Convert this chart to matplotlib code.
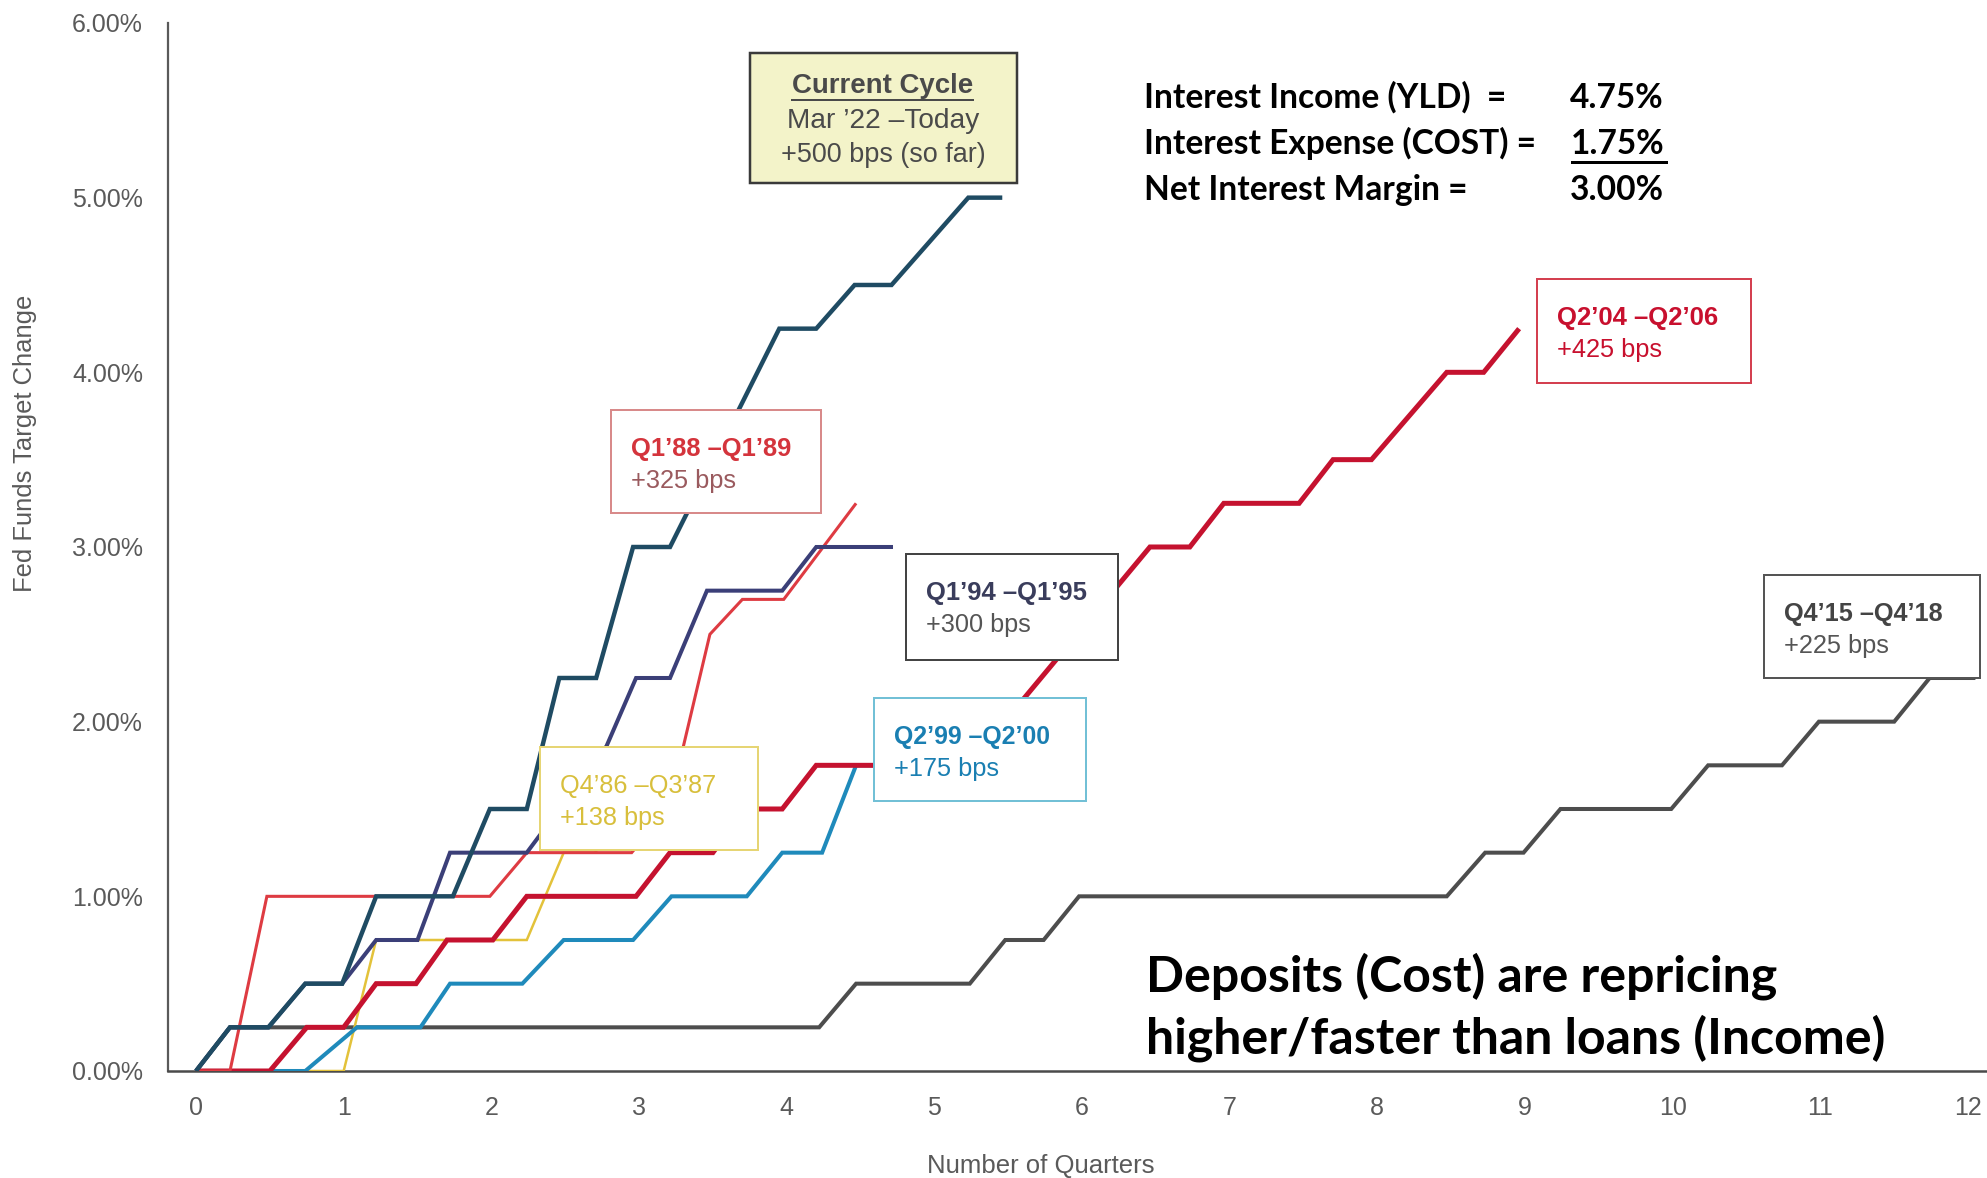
import matplotlib
matplotlib.use("Agg")
import matplotlib.pyplot as plt
from matplotlib.patches import Rectangle
from matplotlib.lines import Line2D
from matplotlib import font_manager

# ---------------- data ----------------
cur_x = [0, 0.23, 0.49, 0.74, 0.99, 1.22, 1.74, 1.99, 2.24, 2.46, 2.71, 2.96, 3.21, 3.95, 4.20, 4.46, 4.71, 5.23, 5.46]
cur_y = [0, 0.25, 0.25, 0.50, 0.50, 1.00, 1.00, 1.50, 1.50, 2.25, 2.25, 3.00, 3.00, 4.25, 4.25, 4.50, 4.50, 5.00, 5.00]

q94_x = [0, 0.23, 0.49, 0.74, 0.99, 1.22, 1.50, 1.72, 2.24, 2.78, 2.98, 3.21, 3.46, 3.97, 4.20, 4.72]
q94_y = [0, 0.25, 0.25, 0.50, 0.50, 0.75, 0.75, 1.25, 1.25, 1.86, 2.25, 2.25, 2.75, 2.75, 3.00, 3.00]

q88_x = [0, 0.23, 0.48, 1.99, 2.24, 2.95, 3.20, 3.48, 3.70, 3.98, 4.47]
q88_y = [0, 0, 1.00, 1.00, 1.25, 1.25, 1.50, 2.50, 2.70, 2.70, 3.25]

q04_x = [0, 0.50, 0.75, 1.00, 1.22, 1.49, 1.70, 2.01, 2.24, 2.98, 3.21, 3.50, 3.72, 3.97, 4.20, 5.23, 6.46, 6.73, 6.96, 7.47, 7.70, 7.96, 8.47, 8.72, 8.96]
q04_y = [0, 0, 0.25, 0.25, 0.50, 0.50, 0.75, 0.75, 1.00, 1.00, 1.25, 1.25, 1.50, 1.50, 1.75, 1.75, 3.00, 3.00, 3.25, 3.25, 3.50, 3.50, 4.00, 4.00, 4.25]

q99_x = [0, 0.74, 1.09, 1.52, 1.72, 2.21, 2.49, 2.96, 3.22, 3.73, 3.97, 4.24, 4.47, 4.62]
q99_y = [0, 0, 0.25, 0.25, 0.50, 0.50, 0.75, 0.75, 1.00, 1.00, 1.25, 1.25, 1.75, 1.75]

q86_x = [0, 1.00, 1.22, 2.24, 2.49, 2.70, 2.85]
q86_y = [0, 0, 0.75, 0.75, 1.25, 1.25, 1.38]

q15_x = [0, 0.23, 4.22, 4.47, 5.24, 5.48, 5.74, 5.98, 8.47, 8.73, 8.99, 9.24, 9.99, 10.24, 10.74, 10.99, 11.50, 11.74, 12.05]
q15_y = [0, 0.25, 0.25, 0.50, 0.50, 0.75, 0.75, 1.00, 1.00, 1.25, 1.25, 1.50, 1.50, 1.75, 1.75, 2.00, 2.00, 2.25, 2.25]

x_ticks = list(range(0, 13))
y_ticks = [0, 1, 2, 3, 4, 5, 6]
y_tick_labels = ["0.00%", "1.00%", "2.00%", "3.00%", "4.00%", "5.00%", "6.00%"]

cycle_titles = ["Q1\u201988 \u2013Q1\u201989", "Q1\u201994 \u2013Q1\u201995", "Q2\u201999 \u2013Q2\u201900",
                "Q4\u201986 \u2013Q3\u201987", "Q2\u201904 \u2013Q2\u201906", "Q4\u201915 \u2013Q4\u201918"]
cycle_bps = ["+325 bps", "+300 bps", "+175 bps", "+138 bps", "+425 bps", "+225 bps"]

nim_labels = ["Interest Income (YLD)  =", "Interest Expense (COST) =", "Net Interest Margin ="]
nim_values = ["4.75%", "1.75%", "3.00%"]

# ---------------- figure ----------------
W, H = 1987, 1178
fig = plt.figure(figsize=(W / 100, H / 100), dpi=100)
fig.patch.set_facecolor("white")

avail = {f.name for f in font_manager.fontManager.ttflist}
ARIAL = "Liberation Sans"
NARROW = "Liberation Sans Narrow" if "Liberation Sans Narrow" in avail else "Liberation Sans"
CAL = "Lato" if "Lato" in avail else "Open Sans"

# axes placement in pixels
px_per_q = 147.67
px_per_pct = 174.67
x0_px, y0_px = 196.0, 1071.0
xlim = (-0.19, 12.13)
ylim = (0, 6)
left_px = x0_px + xlim[0] * px_per_q
right_px = x0_px + xlim[1] * px_per_q
top_px = y0_px - ylim[1] * px_per_pct
ax = fig.add_axes([left_px / W, 1 - y0_px / H, (right_px - left_px) / W, (y0_px - top_px) / H])
ax.set_xlim(*xlim)
ax.set_ylim(*ylim)
ax.set_facecolor("none")
for s in ["top", "right"]:
    ax.spines[s].set_visible(False)
ax.spines["left"].set_color("#5a5a5a")
ax.spines["left"].set_linewidth(1.6)
ax.spines["bottom"].set_color("#4a4a4a")
ax.spines["bottom"].set_linewidth(1.8)
ax.spines["left"].set_zorder(1)
ax.spines["bottom"].set_zorder(1)

ax.set_xticks(x_ticks)
ax.set_xticklabels([str(v) for v in x_ticks])
ax.set_yticks(y_ticks)
ax.set_yticklabels(y_tick_labels)
ax.tick_params(axis="both", length=0, labelsize=18, labelcolor="#5a5a5a")
ax.tick_params(axis="y", pad=18)
ax.tick_params(axis="x", pad=18)
for lab in ax.get_xticklabels() + ax.get_yticklabels():
    lab.set_fontfamily(ARIAL)

series = [
    (q15_x, q15_y, "#4d4d4d", 2.9, 2),
    (q86_x, q86_y, "#e3c23a", 1.8, 3),
    (q99_x, q99_y, "#1f8abb", 2.9, 4),
    (q04_x, q04_y, "#c5122f", 3.6, 5),
    (q88_x, q88_y, "#de3b42", 2.2, 6),
    (q94_x, q94_y, "#3b3f78", 2.9, 7),
    (cur_x, cur_y, "#1f4b63", 3.2, 8),
]
for xs, ys, c, lw, z in series:
    ax.plot(xs, ys, color=c, lw=lw, zorder=z, solid_joinstyle="miter", solid_capstyle="butt")

# ---------------- helpers for annotations ----------------
renderer = fig.canvas.get_renderer()


def fpos(x, y):
    return x / W, 1 - y / H


def fit(t, target, dim="w"):
    bb = t.get_window_extent(renderer=renderer)
    cur = bb.width if dim == "w" else bb.height
    t.set_fontsize(t.get_fontsize() * target / cur)
    return t


def text(x, y, s, color, width=None, size=18, weight="normal", ha="left", va="center",
         family=ARIAL, rotation=0, dim="w", z=7):
    t = fig.text(*fpos(x, y), s, color=color, fontsize=size, fontweight=weight, ha=ha, va=va,
                 family=family, rotation=rotation, zorder=z)
    if width:
        fit(t, width, dim)
    return t


def box(x0, y0, x1, y1, ec, fc="white", lw=2.0):
    r = Rectangle(fpos(x0, y1), (x1 - x0) / W, (y1 - y0) / H, transform=fig.transFigure,
                  facecolor=fc, edgecolor=ec, linewidth=lw * 0.72, zorder=5)
    fig.add_artist(r)


def hline(x0, x1, y, color, lw):
    fig.add_artist(Line2D([x0 / W, x1 / W], [1 - y / H, 1 - y / H], transform=fig.transFigure,
                          color=color, lw=lw * 0.72, zorder=7))


# axis labels
text(25, 443, "Fed Funds Target Change", "#5a5a5a", width=298, size=15, family=NARROW,
     rotation=90, ha="center", dim="h")
text(1041, 1166, "Number of Quarters", "#5a5a5a", width=228, size=15, family=NARROW, ha="center")

# current cycle box
box(750, 53, 1017, 183, "#3a3a3a", fc="#f3f3c9", lw=2.5)
text(883, 86, "Current Cycle", "#4a4a4a", width=181, weight="bold", ha="center")
hline(792, 973, 100, "#4a4a4a", 2)
text(883, 121, "Mar \u201922 \u2013Today", "#4a4a4a", width=192, ha="center")
text(883, 155, "+500 bps (so far)", "#4a4a4a", width=205, ha="center")

# cycle boxes
box_specs = [
    # x0, y0, x1, y1, edge, title_color, sub_color, title_weight, title_w
    (611, 410, 821, 513, "#d88a8a", "#d4343c", "#9a5a5e", "bold", 160),
    (906, 554, 1118, 660, "#444444", "#3a3d5c", "#555555", "bold", 161),
    (874, 698, 1086, 801, "#72c0d6", "#1a7fb2", "#1a7fb2", "bold", 156),
    (540, 747, 758, 850, "#e6d574", "#d8bf3c", "#d8bf3c", "normal", 157),
    (1537, 279, 1751, 383, "#d44050", "#c8102e", "#c8102e", "bold", 162),
    (1764, 575, 1980, 678, "#555555", "#444444", "#555555", "bold", 159),
]
for (bx0, by0, bx1, by1, ec, tc, sc, tw, twid), title, bps in zip(box_specs, cycle_titles, cycle_bps):
    box(bx0, by0, bx1, by1, ec)
    lx = bx0 + 20
    text(lx, by0 + 39, title, tc, width=twid, weight=tw)
    text(lx, by0 + 71, bps, sc, width=105)

# NIM block
base_ys = [108, 154, 200]
for lab, val, by in zip(nim_labels, nim_values, base_ys):
    t = text(1144, by, lab, "black", size=24, weight="bold", va="baseline", family=CAL)
    if lab.startswith("Interest Expense"):
        fit(t, 393)
        nim_fs = t.get_fontsize()
    text(1664, by, val, "black", size=24, weight="bold", va="baseline", ha="right", family=CAL)
for t in fig.texts[-6:]:
    t.set_fontsize(nim_fs)
hline(1572, 1666, 162, "black", 3)

# bottom message
t1 = text(1146, 992, "Deposits (Cost) are repricing", "black", size=36, weight="bold",
          va="baseline", family=CAL)
t2 = text(1146, 1053, "higher/faster than loans (Income)", "black", size=36, weight="bold",
          va="baseline", family=CAL)
fit(t2, 740)
t1.set_fontsize(t2.get_fontsize())

fig.savefig("out.png", dpi=100, facecolor="white")
